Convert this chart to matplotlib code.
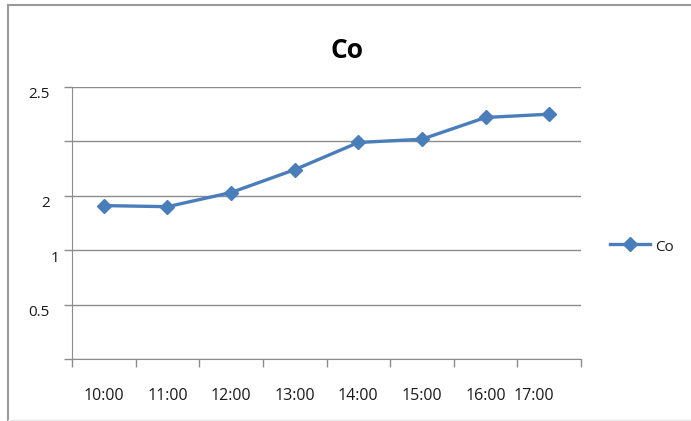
import matplotlib
matplotlib.use("Agg")
import matplotlib.pyplot as plt
from matplotlib.lines import Line2D
from matplotlib.transforms import offset_copy

plt.rcParams['font.family'] = ['Open Sans', 'DejaVu Sans']

hours = ["10:00", "11:00", "12:00", "13:00", "14:00", "15:00", "16:00", "17:00"]
co_values = [1.41, 1.40, 1.53, 1.74, 1.99, 2.02, 2.22, 2.25]
y_ticks = [0, 0.5, 1.0, 1.5, 2.0, 2.5]
y_tick_labels = ["", "0.5", "1", "2", "", "2.5"]

W, H = 691, 421
fig = plt.figure(figsize=(W / 100, H / 100), dpi=100)

# plot area in pixel coordinates
left, right, top, bottom = 72, 581, 87, 359
ax = fig.add_axes([left / W, 1 - bottom / H, (right - left) / W, (bottom - top) / H])

blue = "#4A7EBB"
grid_c = "#8C8C8C"
text_c = "#1a1a1a"
n = len(hours)
xs = [i + 0.5 for i in range(n)]
ax.plot(xs, co_values, color=blue, lw=2.4, marker="D", ms=7.5,
        markeredgecolor=blue, markerfacecolor=blue, label="Co", zorder=3,
        solid_joinstyle="round")

ax.set_xlim(0, n)
ax.set_ylim(0, 2.5)
ax.set_yticks(y_ticks)
ax.set_yticklabels(y_tick_labels)
ax.set_xticks(range(n + 1))
ax.set_xticklabels([])
ax.yaxis.grid(True, color=grid_c, lw=1.0)
ax.set_axisbelow(True)
for s in ["top", "right"]:
    ax.spines[s].set_visible(False)
ax.spines["left"].set_color(grid_c)
ax.spines["bottom"].set_color(grid_c)
ax.tick_params(axis="both", colors=grid_c, length=6, width=1.0)
ax.tick_params(axis="y", labelcolor=text_c, labelsize=11, pad=10)
for lbl in ax.get_yticklabels():
    dx = 10 if lbl.get_text() == "1" else 0
    lbl.set_transform(offset_copy(lbl.get_transform(), fig=fig, x=dx, y=-6, units="dots"))

# category labels under the axis
label_offsets = [0, 0, 0, 0, 0, 0, 0, -15]
for x, txt, dx in zip(xs, hours, label_offsets):
    ax.text(x, 0, txt, transform=offset_copy(ax.get_xaxis_transform(), fig=fig, x=dx, y=-37, units="dots"),
            ha="center", va="center", fontsize=11.5, color=text_c)

fig.text(347 / W, 1 - 50 / H, "Co", ha="center", va="center", fontsize=19,
         fontweight="bold", color="black")

# legend entry
lx0, lx1, ly = 610, 650, 244
fig.add_artist(Line2D([lx0 / W, lx1 / W], [1 - ly / H] * 2, color=blue, lw=2.4))
fig.add_artist(Line2D([(lx0 + lx1) / 2 / W], [1 - ly / H], color=blue, marker="D", ms=7.5))
fig.text(655 / W, 1 - 248 / H, "Co", ha="left", va="center", fontsize=11, color=text_c)

# chart border
fig.add_artist(Line2D([8 / W, 8 / W], [0, 1 - 5 / H], color="#9a9a9a", lw=1.5))
fig.add_artist(Line2D([8 / W, 1], [1 - 5 / H, 1 - 5 / H], color="#9a9a9a", lw=1.5))
fig.add_artist(Line2D([8 / W, 1], [1 - 420 / H] * 2, color="#e6e6e6", lw=1.0))

fig.savefig("out.png", dpi=100)
